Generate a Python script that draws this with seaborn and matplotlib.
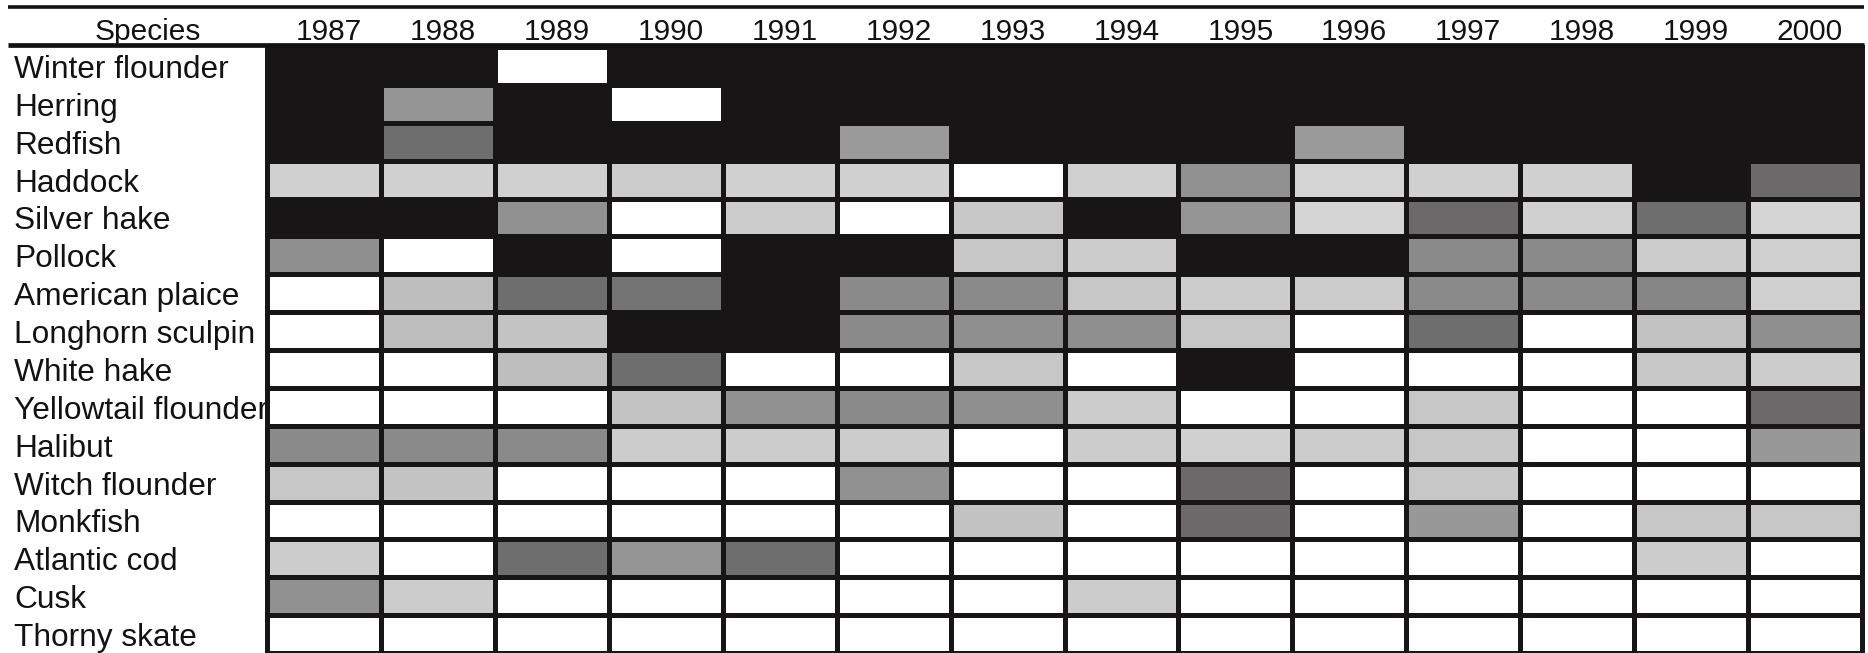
import numpy as np
import pandas as pd
import matplotlib
matplotlib.use("Agg")
import matplotlib.pyplot as plt
from matplotlib.colors import LinearSegmentedColormap
from matplotlib.lines import Line2D
from matplotlib.transforms import ScaledTranslation
import seaborn as sns

# Survey years (columns) and species (rows, top to bottom)
years = [1987, 1988, 1989, 1990, 1991, 1992, 1993, 1994, 1995, 1996, 1997, 1998, 1999, 2000]
species = ["Winter flounder", "Herring", "Redfish", "Haddock", "Silver hake", "Pollock",
           "American plaice", "Longhorn sculpin", "White hake", "Yellowtail flounder",
           "Halibut", "Witch flounder", "Monkfish", "Atlantic cod", "Cusk", "Thorny skate"]

# Shade intensity per species and year (0 = white, 1 = black)
winter_flounder     = [1.00, 1.00, 0.00, 1.00, 1.00, 1.00, 1.00, 1.00, 1.00, 1.00, 1.00, 1.00, 1.00, 1.00]
herring             = [1.00, 0.45, 1.00, 0.00, 1.00, 1.00, 1.00, 1.00, 1.00, 1.00, 1.00, 1.00, 1.00, 1.00]
redfish             = [1.00, 0.62, 1.00, 1.00, 1.00, 0.43, 1.00, 1.00, 1.00, 0.43, 1.00, 1.00, 1.00, 1.00]
haddock             = [0.20, 0.20, 0.20, 0.22, 0.20, 0.20, 0.00, 0.20, 0.47, 0.18, 0.20, 0.20, 1.00, 0.64]
silver_hake         = [1.00, 1.00, 0.47, 0.00, 0.22, 0.00, 0.24, 1.00, 0.45, 0.18, 0.64, 0.20, 0.62, 0.18]
pollock             = [0.48, 0.00, 1.00, 0.00, 1.00, 1.00, 0.24, 0.22, 1.00, 1.00, 0.50, 0.50, 0.22, 0.20]
american_plaice     = [0.00, 0.28, 0.62, 0.60, 1.00, 0.50, 0.50, 0.24, 0.22, 0.22, 0.50, 0.50, 0.52, 0.20]
longhorn_sculpin    = [0.00, 0.28, 0.25, 1.00, 1.00, 0.50, 0.48, 0.48, 0.24, 0.00, 0.62, 0.00, 0.26, 0.48]
white_hake          = [0.00, 0.00, 0.28, 0.62, 0.00, 0.00, 0.24, 0.00, 1.00, 0.00, 0.00, 0.00, 0.24, 0.22]
yellowtail_flounder = [0.00, 0.00, 0.00, 0.25, 0.47, 0.50, 0.48, 0.22, 0.00, 0.00, 0.24, 0.00, 0.00, 0.64]
halibut             = [0.50, 0.50, 0.50, 0.22, 0.22, 0.22, 0.00, 0.22, 0.20, 0.22, 0.24, 0.00, 0.00, 0.44]
witch_flounder      = [0.24, 0.25, 0.00, 0.00, 0.00, 0.47, 0.00, 0.00, 0.64, 0.00, 0.24, 0.00, 0.00, 0.00]
monkfish            = [0.00, 0.00, 0.00, 0.00, 0.00, 0.00, 0.26, 0.00, 0.64, 0.00, 0.44, 0.00, 0.24, 0.24]
atlantic_cod        = [0.22, 0.00, 0.62, 0.45, 0.62, 0.00, 0.00, 0.00, 0.00, 0.00, 0.00, 0.00, 0.22, 0.00]
cusk                = [0.47, 0.22, 0.00, 0.00, 0.00, 0.00, 0.00, 0.22, 0.00, 0.00, 0.00, 0.00, 0.00, 0.00]
thorny_skate        = [0.00, 0.00, 0.00, 0.00, 0.00, 0.00, 0.00, 0.00, 0.00, 0.00, 0.00, 0.00, 0.00, 0.00]

rows = [winter_flounder, herring, redfish, haddock, silver_hake, pollock, american_plaice,
        longhorn_sculpin, white_hake, yellowtail_flounder, halibut, witch_flounder,
        monkfish, atlantic_cod, cusk, thorny_skate]
df = pd.DataFrame(rows, index=species, columns=years)

sns.set_style("white")
plt.rcParams["font.family"] = ["Liberation Sans", "DejaVu Sans"]
ink = "#121212"
dark = "#171515"

W, H = 1868, 653
fig = plt.figure(figsize=(W / 100, H / 100), dpi=100)
left, right, top = 267, 1862, 47
ax = fig.add_axes([left / W, 0, (right - left) / W, (H - top) / H])

cmap = LinearSegmentedColormap.from_list("shade", ["#ffffff", dark])
sns.heatmap(df, ax=ax, cmap=cmap, vmin=0, vmax=1, cbar=False,
            linewidths=3.6, linecolor=dark,
            xticklabels=years, yticklabels=species)
ax.collections[0].set_clip_on(False)
ax.set_xlabel("")
ax.set_ylabel("")

# Year header above the grid
ax.xaxis.tick_top()
ax.tick_params(axis="x", length=0, pad=5.0, labelsize=21.5, colors=ink)
for lab in ax.get_xticklabels():
    lab.set_rotation(0)
    lab.set_va("baseline")
    lab.set_transform(lab.get_transform() + ScaledTranslation(5 / 100, 0, fig.dpi_scale_trans))

# Species names, left-aligned at the page margin
ax.tick_params(axis="y", length=0, pad=(left - 14) * 0.72, labelsize=22.8, colors=ink)
for lab in ax.get_yticklabels():
    lab.set_rotation(0)
    lab.set_ha("left")
    lab.set_va("baseline")
    lab.set_transform(lab.get_transform() + ScaledTranslation(0, -12 / 100, fig.dpi_scale_trans))

for s in ax.spines.values():
    s.set_visible(False)

fig.text(148 / W, 1 - 40 / H, "Species", ha="center", va="baseline", fontsize=21.5, color=ink)

# Table rules
fig.add_artist(Line2D([8 / W, 1864 / W], [1 - 6.5 / H] * 2, color=ink, lw=2.6,
                      transform=fig.transFigure, solid_capstyle="butt"))
fig.add_artist(Line2D([8 / W, 1864 / W], [1 - 44.5 / H] * 2, color=ink, lw=3.4,
                      transform=fig.transFigure, solid_capstyle="butt"))

fig.savefig("out.png", dpi=100, facecolor="white")
